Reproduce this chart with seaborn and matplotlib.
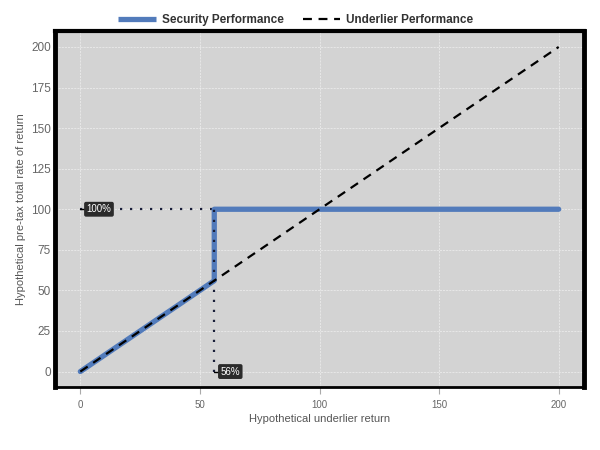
import matplotlib
matplotlib.use("Agg")
import matplotlib.pyplot as plt
import seaborn as sns
import pandas as pd

# Data
underlier_x = [0, 200]
underlier_y = [0, 200]
security_x = [0, 56, 56, 200]
security_y = [0, 56, 100, 100]
cap_level = 100
barrier_level = 56
x_ticks = [0, 50, 100, 150, 200]
y_ticks = [0, 25, 50, 75, 100, 125, 150, 175, 200]
cap_label = "100%"
barrier_label = "56%"

sns.set_theme(style="darkgrid")
plt.rcParams['font.family'] = ['Liberation Sans', 'DejaVu Sans']

fig = plt.figure(figsize=(6, 4.5), dpi=100)
ax = fig.add_axes([0.092, 0.139, 0.881, 0.792])
ax.set_facecolor("#d3d3d3")

sec = pd.DataFrame({"x": security_x, "y": security_y})
und = pd.DataFrame({"x": underlier_x, "y": underlier_y})

# reference dotted lines
ax.plot([0, barrier_level], [cap_level, cap_level], linestyle=(0, (1, 3.5)), color="#1a1f3a", lw=1.6, zorder=2)
ax.plot([barrier_level, barrier_level], [0, cap_level], linestyle=(0, (1, 3.5)), color="#1a1f3a", lw=1.6, zorder=4)

sns.lineplot(data=sec, x="x", y="y", ax=ax, color="#527bbb", lw=3.8, sort=False,
             estimator=None, label="Security Performance", zorder=3)
sns.lineplot(data=und, x="x", y="y", ax=ax, color="black", lw=1.6, linestyle=(0, (4, 3)),
             sort=False, estimator=None, label="Underlier Performance", zorder=5)

# annotations
for (px, py, txt) in [(0, cap_level, cap_label), (barrier_level, 0, barrier_label)]:
    ax.plot([px, px + 2.2], [py, py], color="black", lw=1, zorder=6)
    ax.text(px + 2.6, py, txt, fontsize=7, color="white", va="center", ha="left", zorder=7,
            bbox=dict(boxstyle="round,pad=0.25,rounding_size=0.2", fc="#2b2b2b", ec="none"))

ax.set_xlim(-10.5, 210.5)
ax.set_ylim(-9.8, 209.8)
ax.set_xticks(x_ticks)
ax.set_yticks(y_ticks)
ax.grid(True, color="white", lw=0.5, linestyle=(0, (3, 1.5)), alpha=0.65)
ax.tick_params(axis="x", labelsize=7, colors="#aaaaaa", length=5, width=0.8, direction="out",
               pad=4, bottom=True)
ax.tick_params(axis="y", labelsize=8.5, length=0, pad=3)
for lbl in ax.get_xticklabels() + ax.get_yticklabels():
    lbl.set_color("#666666")
ax.set_xlabel("Hypothetical underlier return", fontsize=8, color="#555555", labelpad=3)
ax.set_ylabel("Hypothetical pre-tax total rate of return", fontsize=8, color="#555555", labelpad=4)

for side, w in [("left", 3.5), ("top", 3), ("right", 3.5), ("bottom", 2)]:
    ax.spines[side].set_visible(True)
    ax.spines[side].set_color("black")
    ax.spines[side].set_linewidth(w)

handles, labels = ax.get_legend_handles_labels()
ax.get_legend().remove()
leg = fig.legend(handles, labels, loc="center", bbox_to_anchor=(0.493, 0.955), ncol=2, frameon=False,
                 fontsize=8.5, handlelength=3.2, handletextpad=0.5, columnspacing=1.6)
for h in leg.legend_handles:
    h.set_solid_capstyle("butt")
for t in leg.get_texts():
    t.set_fontweight("bold")
    t.set_color("#333333")

fig.savefig("out.png", dpi=100)
